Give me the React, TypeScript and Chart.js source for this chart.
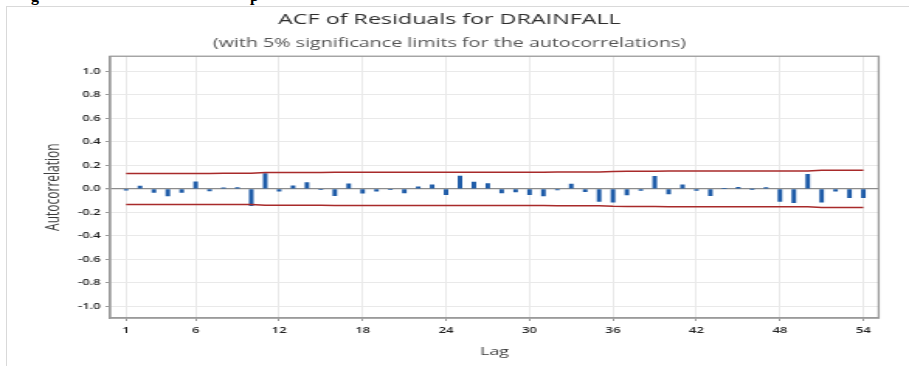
import React, { useEffect, useRef } from "react";
import { Chart, registerables } from "chart.js";

Chart.register(...registerables);

const titleText = "ACF of Residuals for DRAINFALL";
const subtitleText = "(with 5% significance limits for the autocorrelations)";
const xAxisTitle = "Lag";
const yAxisTitle = "Autocorrelation";

const lags = [
  1, 2, 3, 4, 5, 6, 7, 8, 9, 10, 11, 12, 13, 14, 15, 16, 17, 18, 19, 20, 21, 22, 23, 24, 25, 26, 27,
  28, 29, 30, 31, 32, 33, 34, 35, 36, 37, 38, 39, 40, 41, 42, 43, 44, 45, 46, 47, 48, 49, 50, 51,
  52, 53, 54,
];

const acf = [
  -0.01, 0.023, -0.03, -0.06, -0.03, 0.06, -0.017, 0.01, 0.012, -0.143, 0.13, -0.02, 0.027, 0.054,
  -0.006, -0.057, 0.043, -0.037, -0.02, -0.006, -0.034, 0.017, 0.034, -0.049, 0.109, 0.057, 0.046,
  -0.034, -0.026, -0.049, -0.06, -0.009, 0.04, -0.023, -0.106, -0.114, -0.051, -0.014, 0.106,
  -0.043, 0.034, -0.014, -0.057, 0.003, 0.013, -0.002, 0.011, -0.106, -0.117, 0.123, -0.114, -0.02,
  -0.074, -0.074,
];

const upperLimit = [
  0.132, 0.132, 0.132, 0.132, 0.132, 0.132, 0.132, 0.133, 0.133, 0.133, 0.14, 0.14, 0.14, 0.14,
  0.14, 0.141, 0.141, 0.141, 0.141, 0.141, 0.141, 0.141, 0.141, 0.141, 0.142, 0.142, 0.142, 0.142,
  0.142, 0.142, 0.142, 0.143, 0.143, 0.143, 0.143, 0.149, 0.151, 0.151, 0.151, 0.152, 0.152, 0.152,
  0.152, 0.152, 0.152, 0.152, 0.152, 0.152, 0.152, 0.153, 0.158, 0.158, 0.158, 0.158,
];

const lowerLimit = [
  -0.132, -0.132, -0.132, -0.132, -0.132, -0.132, -0.132, -0.133, -0.133, -0.133, -0.14, -0.14,
  -0.14, -0.14, -0.14, -0.141, -0.141, -0.141, -0.141, -0.141, -0.141, -0.141, -0.141, -0.141,
  -0.142, -0.142, -0.142, -0.142, -0.142, -0.142, -0.142, -0.143, -0.143, -0.143, -0.143, -0.149,
  -0.151, -0.151, -0.151, -0.152, -0.152, -0.152, -0.152, -0.152, -0.152, -0.152, -0.152, -0.152,
  -0.152, -0.153, -0.158, -0.158, -0.158, -0.158,
];

const xTickValues = [1, 6, 12, 18, 24, 30, 36, 42, 48, 54];
const yTickValues = [-1.0, -0.8, -0.6, -0.4, -0.2, 0.0, 0.2, 0.4, 0.6, 0.8, 1.0];

const BAR_COLOR = "#1f5ca8";
const LIMIT_COLOR = "#a82a2a";
const GRID_COLOR = "#e9e9e9";
const AXIS_COLOR = "#9a9a9a";
const FONT = "'Open Sans', 'Noto Sans', sans-serif";

// The reference graphic is stretched horizontally; the canvas is drawn narrower and widened by CSS.
const OUT_W = 909;
const OUT_H = 366;
const STRETCH = 1.55;
const CANVAS_W = Math.round(OUT_W / STRETCH);

const boxPlugin = {
  id: "plotBox",
  afterDraw(chart: any) {
    const { ctx, chartArea } = chart;
    ctx.save();
    ctx.strokeStyle = AXIS_COLOR;
    ctx.lineWidth = 1.3;
    ctx.strokeRect(chartArea.left, chartArea.top, chartArea.right - chartArea.left, chartArea.bottom - chartArea.top);
    ctx.restore();
  },
};

export default function App() {
  const ref = useRef<HTMLCanvasElement | null>(null);

  useEffect(() => {
    if (!ref.current) return;
    const plotLeft = 110 / STRETCH;
    const plotRight = 878 / STRETCH;
    const padLeft = 13;
    const chart = new Chart(ref.current, {
      type: "bar",
      data: {
        datasets: [
          {
            type: "line",
            data: lags.map((l, i) => ({ x: l, y: upperLimit[i] })),
            borderColor: LIMIT_COLOR,
            borderWidth: 1.5,
            pointRadius: 0,
            fill: false,
          } as any,
          {
            type: "line",
            data: lags.map((l, i) => ({ x: l, y: lowerLimit[i] })),
            borderColor: LIMIT_COLOR,
            borderWidth: 1.5,
            pointRadius: 0,
            fill: false,
          } as any,
          {
            type: "bar",
            data: lags.map((l, i) => ({ x: l, y: acf[i] })),
            backgroundColor: BAR_COLOR,
            borderWidth: 0,
            barThickness: 2.3,
          } as any,
        ],
      },
      options: {
        animation: false,
        responsive: false,
        devicePixelRatio: 1,
        layout: { padding: { left: padLeft, right: CANVAS_W - plotRight, top: 0, bottom: 0 } },
        plugins: {
          legend: { display: false },
          tooltip: { enabled: false },
          title: {
            display: true,
            text: titleText,
            color: "#2e2e2e",
            font: { family: FONT, size: 15, weight: "500", lineHeight: 1.2 },
            padding: { top: 11, bottom: 4 },
          },
          subtitle: {
            display: true,
            text: subtitleText,
            color: "#555555",
            font: { family: FONT, size: 12.7, weight: "normal", lineHeight: 1.2 },
            padding: { top: 3, bottom: 5 },
          },
        },
        scales: {
          x: {
            type: "linear",
            min: -0.15,
            max: 55.1,
            offset: false,
            afterBuildTicks: (s: any) => {
              s.ticks = xTickValues.map((v) => ({ value: v }));
            },
            afterFit: (s: any) => {
              s.height = 48;
            },
            ticks: {
              autoSkip: false,
              maxRotation: 0,
              padding: 4,
              color: "#222222",
              font: { family: FONT, size: 8.5, weight: "600" },
            },
            grid: { color: GRID_COLOR, tickColor: AXIS_COLOR, tickLength: 3, offset: false, lineWidth: 1 },
            border: { color: AXIS_COLOR, width: 1.5 },
            title: {
              display: true,
              text: xAxisTitle,
              color: "#3a3a3a",
              font: { family: FONT, size: 11.5, weight: "500" },
              padding: { top: 0, bottom: 7 },
            },
          },
          y: {
            type: "linear",
            min: -1.1,
            max: 1.13,
            afterBuildTicks: (s: any) => {
              s.ticks = yTickValues.map((v) => ({ value: v }));
            },
            afterFit: (s: any) => {
              s.width = plotLeft - padLeft;
            },
            ticks: {
              padding: 3,
              color: "#222222",
              font: { family: FONT, size: 8.5, weight: "600" },
              callback: (v: any) => Number(v).toFixed(1),
            },
            grid: {
              color: (c: any) => (c.tick && Math.abs(c.tick.value) < 1e-9 ? "#8c8c8c" : GRID_COLOR),
              lineWidth: (c: any) => (c.tick && Math.abs(c.tick.value) < 1e-9 ? 1.3 : 1),
              tickColor: AXIS_COLOR,
              tickLength: 3,
            },
            border: { color: AXIS_COLOR, width: 1.3 },
            title: {
              display: true,
              text: yAxisTitle,
              color: "#3a3a3a",
              font: { family: FONT, size: 12, weight: "500", lineHeight: 1.2 },
              padding: { top: 14, bottom: 0 },
            },
          },
        },
      } as any,
      plugins: [boxPlugin],
    });
    return () => chart.destroy();
  }, []);

  const captionStyle: React.CSSProperties = {
    position: "absolute",
    top: -12,
    fontFamily: "'Liberation Serif', serif",
    fontWeight: "bold",
    fontSize: 16,
    lineHeight: "16px",
    color: "#000",
  };

  return (
    <div
      style={{
        position: "absolute",
        left: 0,
        top: 0,
        width: OUT_W,
        height: OUT_H,
        overflow: "hidden",
        background: "#ffffff",
      }}
    >
      <span style={{ ...captionStyle, left: 31 }}>g</span>
      <span style={{ ...captionStyle, left: 250 }}>p</span>
      <canvas
        ref={ref}
        width={CANVAS_W}
        height={OUT_H}
        style={{ position: "absolute", left: 0, top: 0, width: OUT_W + "px", height: OUT_H + "px" }}
      />
      <div
        style={{
          position: "absolute",
          left: 6,
          top: 6,
          width: 920,
          height: 380,
          border: "1px solid #d9d9d9",
          boxSizing: "border-box",
          pointerEvents: "none",
        }}
      />
    </div>
  );
}
